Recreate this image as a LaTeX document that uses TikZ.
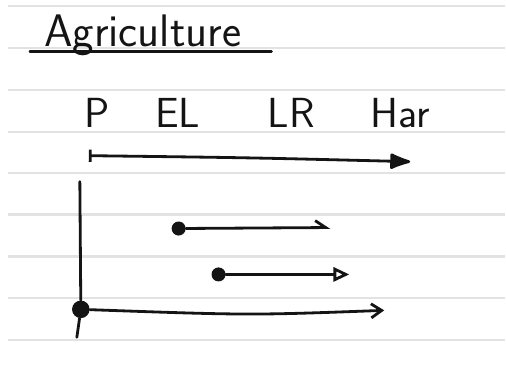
\documentclass[tikz,border=0pt]{standalone}
\usetikzlibrary{arrows.meta}
\definecolor{inkc}{HTML}{141414}
\definecolor{rulec}{HTML}{E2E2E2}
\tikzset{
  ink/.style={line width=1.6pt, draw=inkc, line cap=round},
  hand/.style={font=\sffamily\fontsize{#1}{#1}\selectfont, inner sep=0pt, anchor=base, text=inkc},
  dot/.style={circle, fill=inkc, inner sep=0pt, minimum size=#1},
  rule/.style={draw=rulec, line width=1.2pt},
}
\begin{document}
\begin{tikzpicture}[x=0.02cm,y=-0.02cm]
  \fill[white] (0,0) rectangle (506,381);
  \foreach \y in {6,48,90,132,173,215,257,299,341}
    \draw[rule] (8,\y) -- (506,\y);

  \node[hand=26] (title) at (143,47) {Agriculture};
  \coordinate (ul1) at (30,52);
  \coordinate (ul2) at (272,52);
  \draw[ink] (ul1) -- (ul2);

  \node[hand=24] (p) at (97,128) {P};
  \node[hand=24] (el) at (178,128) {EL};
  \node[hand=24] (lr) at (292,128) {LR};
  \node[hand=24] (har) at (401,128) {Har};

  \coordinate (ts) at (89,156);
  \coordinate (te) at (411,162);
  \draw[ink,{Bar[width=7pt]}-{Latex[length=14pt,width=10pt,round]}] (ts) .. controls (250,158) .. (te);

  \node[dot=10pt] (d0) at (81,310) {};
  \coordinate (vtop) at (80,182);
  \coordinate (vbot) at (77,338);
  \draw[ink] (vtop) -- (d0) -- (vbot);

  \node[dot=8pt] (d1) at (179,229) {};
  \coordinate (e1) at (331,228);
  \draw[ink,-{Straight Barb[harpoon,length=6pt,width=8pt]}] (d1) -- (e1);

  \node[dot=8pt] (d2) at (219,275) {};
  \coordinate (e2) at (350,275);
  \draw[ink,-{Triangle[open,length=9pt,width=8pt]}] (d2) -- (e2);

  \coordinate (e0) at (385,311);
  \draw[ink,-{Straight Barb[length=6pt,width=8pt]}] (d0) .. controls (250,316) .. (e0);
\end{tikzpicture}
\end{document}
